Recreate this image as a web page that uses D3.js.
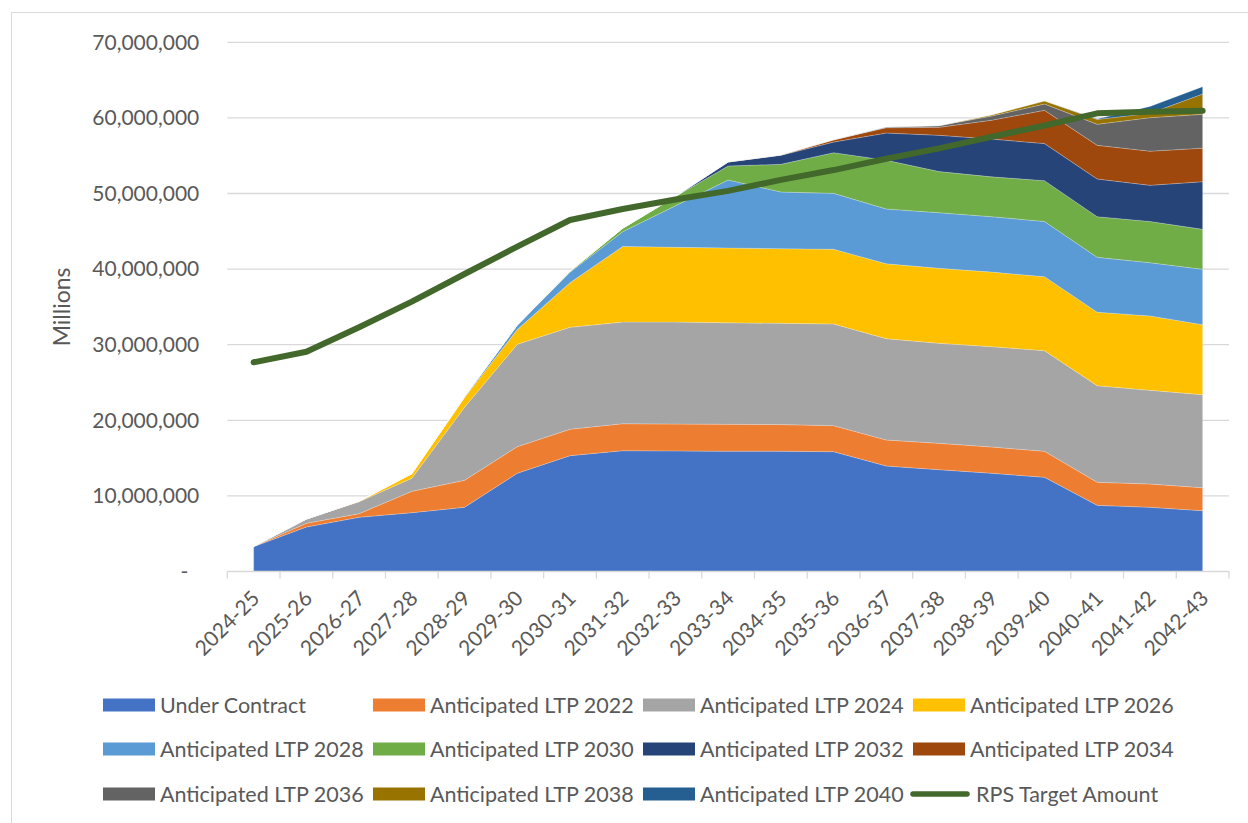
<!DOCTYPE html>
<html>
<head>
<meta charset="utf-8">
<script src="https://cdn.jsdelivr.net/npm/d3@7"></script>
<style>
  body { margin: 0; background: #fff; }
  svg { display: block; }
  text { font-family: Lato, "Open Sans", sans-serif; fill: #595959; }
</style>
</head>
<body>
<script>
// values in millions
var years = ["2024-25","2025-26","2026-27","2027-28","2028-29","2029-30","2030-31","2031-32","2032-33","2033-34",
             "2034-35","2035-36","2036-37","2037-38","2038-39","2039-40","2040-41","2041-42","2042-43"];

var underContract = [3.28,5.89,7.17,7.78,8.49,12.99,15.32,15.98,15.95,15.9,15.9,15.85,13.95,13.47,12.99,12.46,8.75,8.49,8.04];
var ltp2022 = [0.02,0.48,0.48,2.82,3.57,3.52,3.49,3.57,3.55,3.57,3.53,3.44,3.44,3.48,3.48,3.44,3.05,3.08,3.04];
var ltp2024 = [0.02,0.57,1.58,1.73,9.66,13.54,13.49,13.45,13.5,13.43,13.4,13.45,13.41,13.23,13.27,13.31,12.78,12.4,12.31];
var ltp2026 = [0,0,0.07,0.61,1.28,1.95,5.9,10.0,9.88,9.89,9.87,9.88,9.9,9.92,9.86,9.79,9.72,9.83,9.26];
var ltp2028 = [0,0,0,0,0.1,0.6,1.38,1.95,5.49,9.0,7.5,7.4,7.25,7.36,7.33,7.3,7.26,7.05,7.32];
var ltp2030 = [0,0,0,0,0,0,0.12,0.45,1.23,1.85,3.66,5.38,6.45,5.44,5.27,5.4,5.37,5.45,5.29];
var ltp2032 = [0,0,0,0,0,0,0,0,0,0.53,1.19,1.4,3.6,4.8,5.0,4.9,4.99,4.78,6.3];
var ltp2034 = [0,0,0,0,0,0,0,0,0,0,0.05,0.3,0.7,1.05,2.5,4.4,4.45,4.52,4.44];
var ltp2036 = [0,0,0,0,0,0,0,0,0,0,0,0,0.1,0.22,0.55,0.84,2.78,4.43,4.47];
var ltp2038 = [0,0,0,0,0,0,0,0,0,0,0,0,0,0,0.15,0.4,0.65,0.57,2.69];
var ltp2040 = [0,0,0,0,0,0,0,0,0,0,0,0,0,0,0,0,0.05,0.9,0.97];
var rpsTarget = [27.67,29.07,32.3,35.7,39.35,42.97,46.5,47.95,49.2,50.35,51.8,53.1,54.6,55.97,57.5,59.0,60.6,60.82,60.95];

var yTicks = [0,10e6,20e6,30e6,40e6,50e6,60e6,70e6];

var seriesNames = ["Under Contract","Anticipated LTP 2022","Anticipated LTP 2024","Anticipated LTP 2026",
                   "Anticipated LTP 2028","Anticipated LTP 2030","Anticipated LTP 2032","Anticipated LTP 2034",
                   "Anticipated LTP 2036","Anticipated LTP 2038","Anticipated LTP 2040"];
var seriesValues = [underContract,ltp2022,ltp2024,ltp2026,ltp2028,ltp2030,ltp2032,ltp2034,ltp2036,ltp2038,ltp2040];
var colours = ["#4472C4","#ED7D31","#A5A5A5","#FFC000","#5B9BD5","#70AD47","#264478","#9E480E","#636363","#997300","#255E91"];
var lineName = "RPS Target Amount";
var lineColour = "#43682B";

var w = 1248, h = 823;
var plotL = 227.3, plotR = 1229, plotT = 42.3, plotB = 571.5;

var svg = d3.select("body").append("svg")
    .attr("width", w)
    .attr("height", h);

// chart border
svg.append("rect")
    .attr("x", 11.5).attr("y", 12.5)
    .attr("width", 1300).attr("height", 900)
    .attr("fill", "none")
    .attr("stroke", "#d9d9d9");

var rows = years.map(function(yr, i){
  var r = {year: yr};
  seriesNames.forEach(function(n, k){ r[n] = seriesValues[k][i] * 1e6; });
  return r;
});

var stack = d3.stack().keys(seriesNames);
var layers = stack(rows);

var xBand = d3.scaleBand().domain(years).range([plotL, plotR]);
var x = function(yr){ return xBand(yr) + xBand.bandwidth() / 2; };
var y = d3.scaleLinear().domain([0, 70e6]).range([plotB, plotT]);

// gridlines
svg.append("g").selectAll("line")
  .data(yTicks.filter(function(t){ return t > 0; }))
  .enter().append("line")
  .attr("x1", plotL).attr("x2", plotR)
  .attr("y1", function(d){ return y(d); })
  .attr("y2", function(d){ return y(d); })
  .attr("stroke", "#d9d9d9")
  .attr("stroke-width", 1.3);

var area = d3.area()
  .x(function(d){ return x(d.data.year); })
  .y0(function(d){ return y(d[0]); })
  .y1(function(d){ return y(d[1]); });

svg.append("g").selectAll("path")
  .data(layers)
  .enter().append("path")
  .attr("d", area)
  .attr("fill", function(d, i){ return colours[i]; })
  .attr("stroke", "#ffffff")
  .attr("stroke-opacity", 0.35)
  .attr("stroke-width", 0.6);

// x axis line and boundary ticks
svg.append("line")
  .attr("x1", plotL).attr("x2", plotR)
  .attr("y1", plotB).attr("y2", plotB)
  .attr("stroke", "#d9d9d9").attr("stroke-width", 1.3);

svg.append("g").selectAll("line")
  .data(years.concat(["end"]))
  .enter().append("line")
  .attr("x1", function(d){ return d === "end" ? plotR : xBand(d); })
  .attr("x2", function(d){ return d === "end" ? plotR : xBand(d); })
  .attr("y1", plotB).attr("y2", plotB + 7)
  .attr("stroke", "#d9d9d9").attr("stroke-width", 1.3);

var xAxis = d3.axisBottom(xBand).tickSize(0).tickPadding(0);
var gx = svg.append("g")
  .attr("transform", "translate(0," + plotB + ")")
  .call(xAxis);
gx.select(".domain").remove();
gx.selectAll("text")
  .attr("font-size", 21)
  .attr("text-anchor", "end")
  .attr("dy", "0.35em")
  .attr("transform", "translate(2,23) rotate(-45)")
  .attr("y", 0)
  .attr("fill", "#595959");

// y axis labels
var yAxis = d3.axisLeft(y).tickValues(yTicks).tickSize(0).tickPadding(28)
  .tickFormat(function(d){ return d === 0 ? "-" : d3.format(",")(d); });
var gy = svg.append("g")
  .attr("transform", "translate(" + plotL + ",0)")
  .call(yAxis);
gy.select(".domain").remove();
gy.selectAll("text")
  .attr("font-size", 21)
  .attr("fill", "#595959")
  .attr("x", function(d){ return d === 0 ? -39 : -28; });

svg.append("text")
  .attr("transform", "translate(70," + ((plotT + plotB) / 2) + ") rotate(-90)")
  .attr("text-anchor", "middle")
  .attr("font-size", 23)
  .text("Millions");

// target line
var line = d3.line()
  .x(function(d, i){ return x(years[i]); })
  .y(function(d){ return y(d * 1e6); });

svg.append("path")
  .datum(rpsTarget)
  .attr("d", line)
  .attr("fill", "none")
  .attr("stroke", lineColour)
  .attr("stroke-width", 6)
  .attr("stroke-linecap", "round")
  .attr("stroke-linejoin", "round");

// legend
var legendItems = seriesNames.map(function(n, i){ return {name: n, colour: colours[i], type: "area"}; })
  .concat([{name: lineName, colour: lineColour, type: "line"}]);
var colX = [103, 373, 643, 913];
var rowY = [705, 749, 794];

var lg = svg.append("g").selectAll("g")
  .data(legendItems)
  .enter().append("g")
  .attr("transform", function(d, i){ return "translate(" + colX[i % 4] + "," + rowY[Math.floor(i / 4)] + ")"; });

lg.filter(function(d){ return d.type === "area"; })
  .append("rect")
  .attr("x", 0).attr("y", -6.5)
  .attr("width", 52).attr("height", 13)
  .attr("fill", function(d){ return d.colour; });

lg.filter(function(d){ return d.type === "line"; })
  .append("line")
  .attr("x1", 0).attr("x2", 54)
  .attr("y1", 0).attr("y2", 0)
  .attr("stroke", function(d){ return d.colour; })
  .attr("stroke-width", 5.5)
  .attr("stroke-linecap", "round");

lg.append("text")
  .attr("x", function(d){ return d.type === "line" ? 63 : 57; })
  .attr("y", 0)
  .attr("dy", "0.35em")
  .attr("font-size", 21.5)
  .text(function(d){ return d.name; });
</script>
</body>
</html>
